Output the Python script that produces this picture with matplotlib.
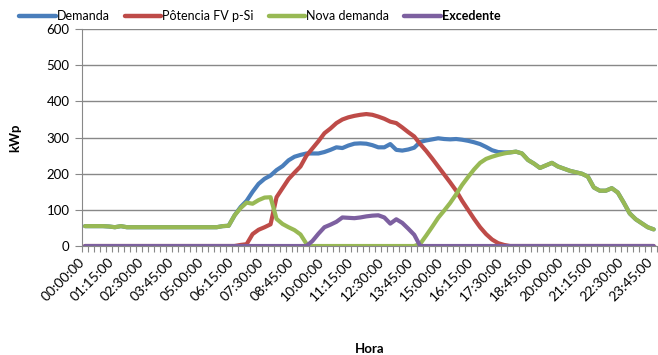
import numpy as np
import matplotlib
matplotlib.use("Agg")
import matplotlib.pyplot as plt
import matplotlib.transforms as mtransforms

plt.rcParams["font.family"] = ["Lato", "DejaVu Sans"]

# 15-minute intervals over one day
horas = ["%02d:%02d:00" % (m // 60, m % 60) for m in range(0, 24 * 60, 15)]

demanda = [55, 55, 55, 55, 54, 52, 55, 52, 52, 52, 52, 52, 52, 52, 52, 52,
           52, 52, 52, 52, 52, 52, 52, 55, 56, 85, 108, 125, 150, 172, 186, 195,
           210, 221, 237, 247, 252, 256, 256, 256, 260, 266, 273, 271, 278, 283, 284, 283,
           279, 273, 273, 282, 266, 264, 267, 272, 288, 292, 295, 298, 296, 295, 296, 294,
           291, 287, 282, 274, 265, 260, 259, 259, 261, 256, 238, 228, 216, 223, 230, 220,
           214, 208, 204, 200, 192, 162, 153, 153, 160, 148, 120, 90, 74, 63, 52, 46]

potencia_fv = [0, 0, 0, 0, 0, 0, 0, 0, 0, 0, 0, 0, 0, 0, 0, 0,
               0, 0, 0, 0, 0, 0, 0, 0, 0, 0, 3, 5, 33, 45, 52, 60,
               135, 160, 185, 203, 220, 250, 270, 290, 312, 325, 340, 350, 356, 360, 363, 365,
               363, 358, 352, 344, 340, 328, 315, 303, 282, 263, 242, 220, 198, 176, 153, 125,
               100, 75, 52, 33, 18, 8, 3, 0, 0, 0, 0, 0, 0, 0, 0, 0,
               0, 0, 0, 0, 0, 0, 0, 0, 0, 0, 0, 0, 0, 0, 0, 0]

nova_demanda = [55, 55, 55, 55, 54, 52, 55, 52, 52, 52, 52, 52, 52, 52, 52, 52,
                52, 52, 52, 52, 52, 52, 52, 55, 56, 85, 105, 120, 117, 127, 134, 135,
                75, 61, 52, 44, 32, 6, 0, 0, 0, 0, 0, 0, 0, 0, 0, 0,
                0, 0, 0, 0, 0, 0, 0, 0, 6, 29, 53, 78, 98, 119, 143, 169,
                191, 212, 230, 241, 247, 252, 256, 259, 261, 256, 238, 228, 216, 223, 230, 220,
                214, 208, 204, 200, 192, 162, 153, 153, 160, 148, 120, 90, 74, 63, 52, 46]

excedente = [0, 0, 0, 0, 0, 0, 0, 0, 0, 0, 0, 0, 0, 0, 0, 0,
             0, 0, 0, 0, 0, 0, 0, 0, 0, 0, 0, 0, 0, 0, 0, 0,
             0, 0, 0, 0, 0, 0, 14, 34, 52, 59, 67, 79, 78, 77, 79, 82,
             84, 85, 79, 62, 74, 64, 48, 31, 0, 0, 0, 0, 0, 0, 0, 0,
             0, 0, 0, 0, 0, 0, 0, 0, 0, 0, 0, 0, 0, 0, 0, 0,
             0, 0, 0, 0, 0, 0, 0, 0, 0, 0, 0, 0, 0, 0, 0, 0]

series = [("Demanda", demanda, "#4A7EBB"),
          ("Pôtencia FV p-Si", potencia_fv, "#BE4B48"),
          ("Nova demanda", nova_demanda, "#98B954"),
          ("Excedente", excedente, "#7D60A0")]

fig = plt.figure(figsize=(6.58, 3.55), dpi=100)
ax = fig.add_axes([0.1246, 0.307, 0.8734, 0.611])

x = np.arange(len(horas))
for nome, valores, cor in series:
    ax.plot(x, valores, color=cor, linewidth=3, label=nome, solid_capstyle="round")

ax.set_xlim(-0.5, len(horas) - 0.5)
ax.set_ylim(0, 600)
ax.set_yticks(range(0, 601, 100))
ax.grid(axis="y", color="#888888", linewidth=1)
ax.set_axisbelow(True)

# slanted hour labels every 5 intervals, nudged left so the last one fits
ax.set_xticks(np.arange(-0.5, len(horas), 1))
ax.set_xticklabels([])
ax.tick_params(axis="x", length=4, color="#888888", width=0.8)
base = ax.get_xaxis_transform() + mtransforms.ScaledTranslation(
    -5 / 72, -7 / 72, fig.dpi_scale_trans)
for i in x[::5]:
    ax.text(i, 0, horas[i], transform=base, rotation=45, ha="right", va="top",
            rotation_mode="anchor", fontsize=10, clip_on=False)

ax.tick_params(axis="y", length=5, color="#888888", labelsize=9.5, pad=4)

for lado in ["top", "right"]:
    ax.spines[lado].set_visible(False)
for lado in ["left", "bottom"]:
    ax.spines[lado].set_color("#888888")

fig.text(0.023, 0.612, "kWp", rotation=90, ha="center", va="center",
         fontsize=9.5, fontweight="bold")
fig.text(0.562, 0.017, "Hora", ha="center", va="center",
         fontsize=9.5, fontweight="bold")

leg = fig.legend(loc="center", bbox_to_anchor=(0.395, 0.955), ncol=4,
                 frameon=False, fontsize=9, handlelength=2.9,
                 handletextpad=0.1, columnspacing=1.2)
for linha in leg.get_lines():
    linha.set_linewidth(3.2)
leg.get_texts()[3].set_fontweight("bold")

fig.savefig("out.png", dpi=100)
